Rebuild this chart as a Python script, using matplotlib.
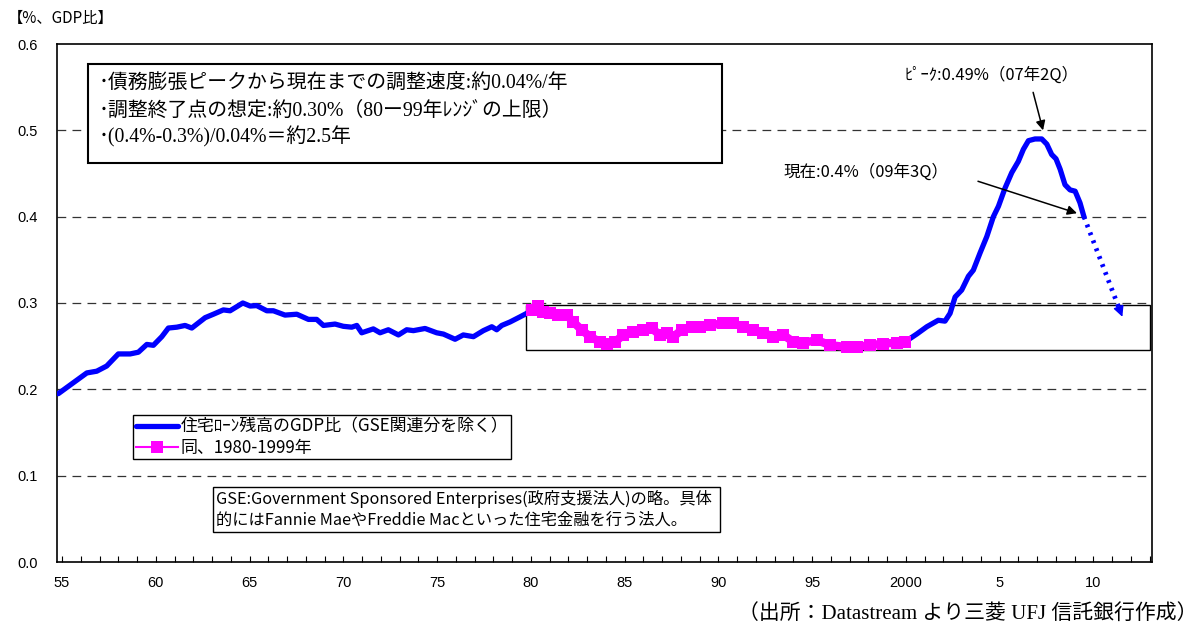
import matplotlib
matplotlib.use("Agg")
import matplotlib.pyplot as plt
from matplotlib.patches import Rectangle
import numpy as np

# Mortgage outstanding / GDP (excluding GSE-related), read as (year, ratio %)
years = [1954.8, 1956.32, 1956.85, 1957.38, 1958.00, 1958.63, 1959.07, 1959.52, 1959.87,
         1960.32, 1960.67, 1961.12, 1961.56, 1961.92, 1962.63, 1963.07, 1963.60, 1963.96,
         1964.64, 1965.03, 1965.38, 1965.92, 1966.27, 1966.89, 1967.52, 1968.14, 1968.58,
         1968.94, 1969.56, 1970.00, 1970.45, 1970.72, 1970.98, 1971.60, 1971.96, 1972.40,
         1972.94, 1973.38, 1973.74, 1974.36, 1974.98, 1975.34, 1975.96, 1976.40, 1976.94,
         1977.47, 1977.92, 1978.18, 1978.45, 1978.89, 1979.43, 1979.78,
         1980.05, 1980.40, 1980.67, 1981.03, 1981.47, 1981.92, 1982.27, 1982.72, 1983.16,
         1983.69, 1984.05, 1984.49, 1984.94, 1985.47, 1986.00, 1986.45, 1986.89, 1987.25,
         1987.60, 1988.05, 1988.58, 1989.03, 1989.56, 1990.27, 1990.80, 1991.34, 1991.87,
         1992.40, 1992.94, 1993.47, 1994.00, 1994.54, 1995.25, 1995.96, 1996.85, 1997.38,
         1998.09, 1998.80, 1999.52, 1999.96,
         2000.58, 2001.12, 2001.73, 2002.09, 2002.36, 2002.63, 2002.98, 2003.34, 2003.60,
         2003.96, 2004.32, 2004.67, 2004.94, 2005.29, 2005.65, 2006.00, 2006.27, 2006.54,
         2006.89, 2007.25, 2007.52, 2007.78, 2008.01, 2008.23, 2008.49, 2008.76, 2009.03,
         2009.29, 2009.50]
ratio = [0.195, 0.219, 0.221, 0.227, 0.241, 0.241, 0.243, 0.252, 0.251,
         0.261, 0.271, 0.272, 0.274, 0.271, 0.283, 0.287, 0.292, 0.291,
         0.300, 0.2965, 0.297, 0.291, 0.291, 0.286, 0.287, 0.281, 0.281,
         0.274, 0.2756, 0.273, 0.272, 0.274, 0.2655, 0.270, 0.2655, 0.269,
         0.263, 0.269, 0.268, 0.2705, 0.2655, 0.264, 0.258, 0.263, 0.261,
         0.268, 0.2725, 0.269, 0.274, 0.278, 0.284, 0.288,
         0.292, 0.2965, 0.290, 0.288, 0.286, 0.286, 0.278, 0.2686, 0.261,
         0.255, 0.253, 0.255, 0.263, 0.2667, 0.269, 0.2705, 0.263, 0.2655,
         0.261, 0.2686, 0.2725, 0.2725, 0.2744, 0.2764, 0.2764, 0.2725, 0.2686,
         0.2655, 0.261, 0.263, 0.255, 0.254, 0.257, 0.2512, 0.249, 0.2495,
         0.251, 0.253, 0.254, 0.255,
         0.264, 0.2725, 0.280, 0.279, 0.288, 0.307, 0.315, 0.331, 0.338,
         0.358, 0.377, 0.400, 0.412, 0.433, 0.451, 0.464, 0.478, 0.488,
         0.490, 0.490, 0.484, 0.472, 0.467, 0.455, 0.437, 0.431, 0.4295,
         0.416, 0.400]

# Projected adjustment path from the latest quarter
proj_years = [2009.50, 2011.55]
proj_ratio = [0.400, 0.284]

# 1980-1999 range band
band_years = [1979.75, 2013.05]
band_ratio = [0.245, 0.298]

x_ticks = [1955, 1960, 1965, 1970, 1975, 1980, 1985, 1990, 1995, 2000, 2005, 2010]
x_labels = ["55", "60", "65", "70", "75", "80", "85", "90", "95", "2000", "5", "10"]
y_ticks = [0.0, 0.1, 0.2, 0.3, 0.4, 0.5, 0.6]

CJK = ["Noto Sans CJK JP", "DejaVu Sans"]
SERIF_MIX = ["Liberation Serif", "Noto Sans CJK JP", "DejaVu Sans"]
plt.rcParams["font.family"] = CJK

W, H = 1200, 628
fig = plt.figure(figsize=(W / 100, H / 100), dpi=100)
ax = fig.add_axes([57 / W, 66 / H, 1095 / W, 518 / H])

def fx(px):
    return px / W

def fy(py):
    return (H - py) / H

yrs = np.array(years)
val = np.array(ratio)
mask = (yrs >= 1980) & (yrs < 2000)

# range band rectangle
ax.add_patch(Rectangle((band_years[0], band_ratio[0]), band_years[1] - band_years[0],
                       band_ratio[1] - band_ratio[0], fill=False, edgecolor="black",
                       linewidth=1.0, zorder=2))

blue_line, = ax.plot(yrs, val, color="#0000FF", linewidth=3.8, solid_capstyle="round",
                     solid_joinstyle="round", zorder=3,
                     label="住宅ﾛｰﾝ残高のGDP比（GSE関連分を除く）")
pink_line, = ax.plot(yrs[mask], val[mask], color="#FF00FF", linewidth=6.0, marker="s",
                     markersize=8, markeredgewidth=0, zorder=4,
                     label="同、1980-1999年")

# dotted projection with arrow head
seg = 0.12
slope = (proj_ratio[0] - proj_ratio[1]) / (proj_years[1] - proj_years[0])
ax.plot([proj_years[0], proj_years[1] - seg], [proj_ratio[0], proj_ratio[1] + slope * seg],
        color="#0000FF", linewidth=3.4, linestyle=(0, (0.6, 1.2)), dash_capstyle="butt", zorder=3)
ax.annotate("", xy=(proj_years[1], proj_ratio[1]),
            xytext=(proj_years[1] - 0.2, proj_ratio[1] + slope * 0.2),
            arrowprops=dict(arrowstyle="-|>", color="#0000FF", lw=1.0, mutation_scale=16,
                            shrinkA=0, shrinkB=0), zorder=3)

ax.set_xlim(1954.73, 2013.13)
ax.set_ylim(0, 0.6)
ax.set_xticks(x_ticks)
ax.set_xticklabels(x_labels, family=["Liberation Sans"], fontsize=10.5)
ax.set_xticks(np.arange(1955, 2014), minor=True)
ax.set_yticks(y_ticks)
ax.set_yticklabels([f"{v:.1f}" for v in y_ticks], family=["Liberation Sans"], fontsize=10.5)
ax.tick_params(axis="x", which="both", direction="in", length=4, width=0.8, pad=10)
ax.tick_params(axis="y", length=0, pad=14)
for s in ax.spines.values():
    s.set_color("black")
    s.set_linewidth(1.2)

for yv in y_ticks[1:-1]:
    ax.axhline(yv, color="#333333", linewidth=0.9, linestyle=(0, (7, 5)), zorder=1)

# legend
leg = ax.legend(handles=[blue_line, pink_line], loc="upper left",
                bbox_to_anchor=(fx(133), fy(415)), bbox_transform=fig.transFigure,
                fontsize=12.2, frameon=True, fancybox=False, edgecolor="black",
                framealpha=1, borderpad=0.15, handlelength=2.5, handletextpad=0.15,
                labelspacing=0.2, borderaxespad=0)
leg.get_frame().set_linewidth(1.0)
leg.legend_handles[1].set_linewidth(1.5)

# header unit
fig.text(fx(8), fy(18), "【%、GDP比】", fontsize=11, va="center", ha="left", family=CJK)

# summary box
fig.add_artist(Rectangle((fx(88), fy(163)), fx(722) - fx(88), fy(64) - fy(163),
                         transform=fig.transFigure, fill=True, facecolor="white",
                         edgecolor="black", linewidth=1.5, zorder=5))
box_lines = ["･債務膨張ピークから現在までの調整速度:約0.04%/年",
             "･調整終了点の想定:約0.30%（80ー99年ﾚﾝｼﾞの上限）",
             "･(0.4%-0.3%)/0.04%＝約2.5年"]
for line, py in zip(box_lines, [84, 111, 137]):
    fig.text(fx(99), fy(py), line, fontsize=14.3, va="center", ha="left",
             family=SERIF_MIX, zorder=6)

# GSE note box
fig.add_artist(Rectangle((fx(213), fy(532)), fx(720) - fx(213), fy(487) - fy(532),
                         transform=fig.transFigure, fill=True, facecolor="white",
                         edgecolor="black", linewidth=1.0, zorder=5))
fig.text(fx(216), fy(499), "GSE:Government Sponsored Enterprises(政府支援法人)の略。具体",
         fontsize=11.7, va="center", ha="left", family=CJK, zorder=6)
fig.text(fx(216), fy(520), "的にはFannie MaeやFreddie Macといった住宅金融を行う法人。",
         fontsize=11.7, va="center", ha="left", family=CJK, zorder=6)

# annotations
fig.text(fx(905), fy(75), "ﾋﾟｰｸ:0.49%（07年2Q）", fontsize=11.9, va="center", ha="left", family=CJK)
ax.annotate("", xy=(2007.32, 0.500), xytext=(2006.79, 0.544),
            arrowprops=dict(arrowstyle="-|>", color="black", lw=1.1, mutation_scale=14,
                            shrinkA=0, shrinkB=0), zorder=6)
fig.text(fx(783), fy(172), "現在:0.4%（09年3Q）", fontsize=11.9, va="center", ha="left", family=CJK)
ax.annotate("", xy=(2009.13, 0.404), xytext=(2003.85, 0.441),
            arrowprops=dict(arrowstyle="-|>", color="black", lw=1.1, mutation_scale=14,
                            shrinkA=0, shrinkB=0), zorder=6)

# source
fig.text(fx(1197), fy(614), "（出所：Datastream より三菱 UFJ 信託銀行作成）", fontsize=15,
         va="center", ha="right", family=SERIF_MIX)

fig.savefig("out.png", dpi=100)
